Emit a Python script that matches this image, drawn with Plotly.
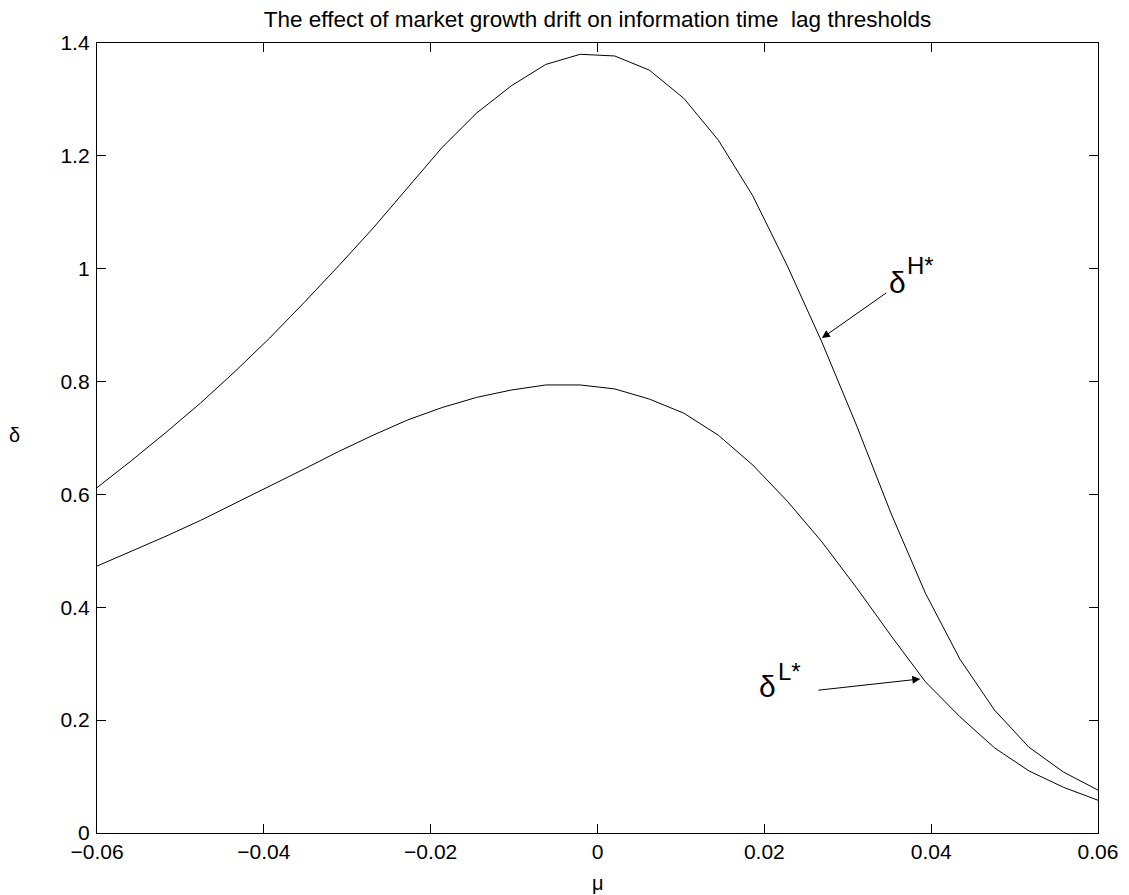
import numpy as np
import plotly.graph_objects as go

# mu grid: 30 equally spaced points from -0.06 to 0.06
mu = np.linspace(-0.06, 0.06, 30)

delta_H = [0.612, 0.660, 0.710, 0.762, 0.818, 0.877, 0.940, 1.005, 1.072, 1.143,
           1.215, 1.276, 1.324, 1.362, 1.380, 1.377, 1.352, 1.302, 1.228, 1.129,
           1.005, 0.870, 0.723, 0.567, 0.425, 0.308, 0.218, 0.152, 0.108, 0.076]

delta_L = [0.473, 0.499, 0.526, 0.554, 0.584, 0.614, 0.645, 0.676, 0.705, 0.732,
           0.754, 0.772, 0.785, 0.794, 0.794, 0.787, 0.769, 0.744, 0.705, 0.652,
           0.588, 0.516, 0.435, 0.350, 0.268, 0.206, 0.151, 0.110, 0.081, 0.058]

x_ticks = [-0.06, -0.04, -0.02, 0, 0.02, 0.04, 0.06]
x_tick_text = ["−0.06", "−0.04", "−0.02", "0", "0.02", "0.04", "0.06"]
y_ticks = [0, 0.2, 0.4, 0.6, 0.8, 1, 1.2, 1.4]
y_tick_text = ["0", "0.2", "0.4", "0.6", "0.8", "1", "1.2", "1.4"]

FONT = "Liberation Sans, Arial, Helvetica, sans-serif"

fig = go.Figure()
fig.add_trace(go.Scatter(x=mu, y=delta_H, mode="lines",
                         line=dict(color="black", width=1), showlegend=False))
fig.add_trace(go.Scatter(x=mu, y=delta_L, mode="lines",
                         line=dict(color="black", width=1), showlegend=False))

# Arrows
fig.add_annotation(x=0.0269, y=0.877, ax=0.0348, ay=0.959, xref="x", yref="y",
                   axref="x", ayref="y", text="", showarrow=True,
                   arrowhead=2, arrowsize=1.6, arrowwidth=1, arrowcolor="black")
fig.add_annotation(x=0.0387, y=0.273, ax=0.0263, ay=0.2528, xref="x", yref="y",
                   axref="x", ayref="y", text="", showarrow=True,
                   arrowhead=2, arrowsize=1.6, arrowwidth=1, arrowcolor="black")

# Curve labels
fig.add_annotation(x=0.0360, y=0.976, xref="x", yref="y", text="δ",
                   showarrow=False, xanchor="center", yanchor="middle",
                   font=dict(family=FONT, size=30, color="black"))
fig.add_annotation(x=0.0369, y=1.005, xref="x", yref="y", text="H*",
                   showarrow=False, xanchor="left", yanchor="middle",
                   font=dict(family=FONT, size=24, color="black"))
fig.add_annotation(x=0.0204, y=0.2605, xref="x", yref="y", text="δ",
                   showarrow=False, xanchor="center", yanchor="middle",
                   font=dict(family=FONT, size=30, color="black"))
fig.add_annotation(x=0.0214, y=0.287, xref="x", yref="y", text="L*",
                   showarrow=False, xanchor="left", yanchor="middle",
                   font=dict(family=FONT, size=24, color="black"))

# Axis titles (placed as paper annotations)
fig.add_annotation(x=-0.0829, y=0.5038, xref="paper", yref="paper", text="δ",
                   showarrow=False, xanchor="center", yanchor="middle",
                   font=dict(family=FONT, size=20, color="black"))
fig.add_annotation(x=0.5, y=-0.0633, xref="paper", yref="paper", text="μ",
                   showarrow=False, xanchor="center", yanchor="middle",
                   font=dict(family=FONT, size=20, color="black"))

axis_common = dict(showline=True, linecolor="black", linewidth=1.3, mirror="ticks",
                   ticks="inside", ticklen=9, tickcolor="black", tickwidth=1,
                   showgrid=False, zeroline=False, automargin=False,
                   tickfont=dict(family=FONT, size=21, color="black"))

fig.update_xaxes(range=[-0.06, 0.06], tickvals=x_ticks, ticktext=x_tick_text,
                 **axis_common)
fig.update_yaxes(range=[0, 1.4], tickvals=y_ticks, ticktext=y_tick_text,
                 ticklabelstandoff=2, **axis_common)

# page body has an 8px margin: figure is placed at (8, 8)
fig.update_layout(
    width=1121, height=887,
    paper_bgcolor="white", plot_bgcolor="white",
    margin=dict(l=89, r=31, t=35, b=62),
    title=dict(text="The effect of market growth drift on information time\u00a0 lag thresholds",
               x=0.5, xref="paper", xanchor="center", y=1 - 11 / 887, yanchor="middle",
               font=dict(family=FONT, size=22.5, color="black")),
)

fig.write_html("out.html")
